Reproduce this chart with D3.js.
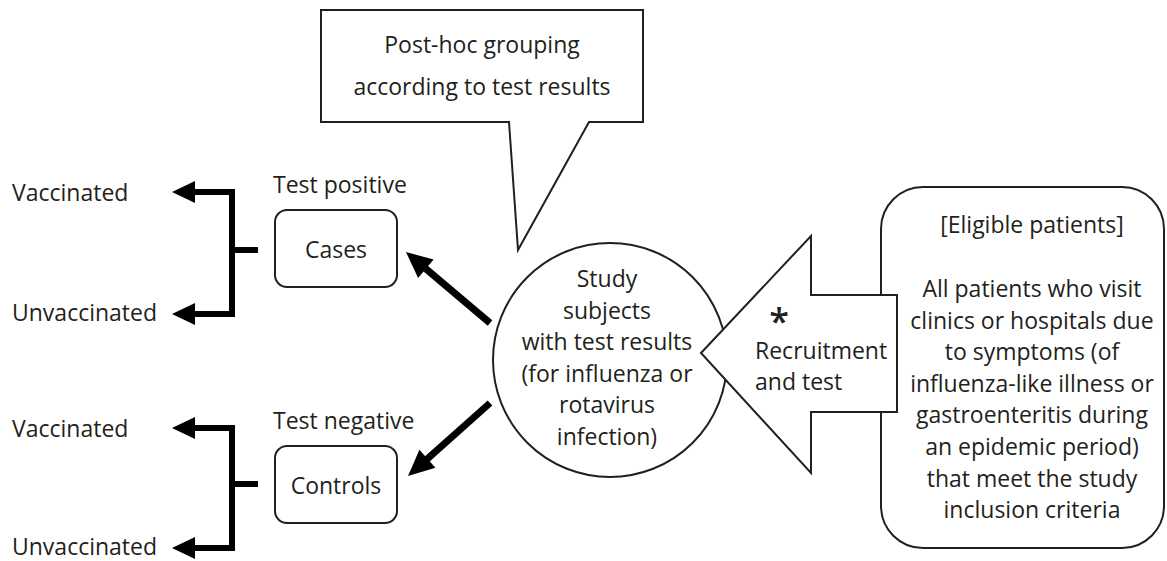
<!DOCTYPE html>
<html>
<head>
<meta charset="utf-8">
<script src="https://cdn.jsdelivr.net/npm/d3@7"></script>
<style>
  body { margin: 0; background: #fff; }
  svg text { font-family: "Open Sans", "Noto Sans", sans-serif; fill: #231f20; }
</style>
</head>
<body>
<div id="diagram"></div>
<script>
// Diagram texts
var calloutLines = ["Post-hoc grouping", "according to test results"];
var groupTitles = ["Test positive", "Test negative"];
var groupBoxes = ["Cases", "Controls"];
var outcomeLabels = ["Vaccinated", "Unvaccinated"];
var circleLines = ["Study", "subjects", "with test results", "(for influenza or", "rotavirus", "infection)"];
var recruitLines = ["Recruitment", "and test"];
var eligibleLines = ["[Eligible patients]", "", "All patients who visit", "clinics or hospitals due",
  "to symptoms (of", "influenza-like illness or", "gastroenteritis during",
  "an epidemic period)", "that meet the study", "inclusion criteria"];

var svgWidth = 1167;
var svgHeight = 561;

var svg = d3.select("#diagram")
  .append("svg")
  .attr("width", svgWidth)
  .attr("height", svgHeight);

var line = d3.line();
var fontSize = 23;

// Callout box with tail
svg.append("path")
  .attr("d", line([[321, 10], [643, 10], [643, 122], [589, 122], [518, 250], [509, 122], [321, 122]]) + "Z")
  .attr("fill", "#fff")
  .attr("stroke", "#231f20")
  .attr("stroke-width", 2);

svg.selectAll(".callout")
  .data(calloutLines)
  .enter()
  .append("text")
  .attr("x", 482)
  .attr("y", (d, i) => 53 + i * 42)
  .attr("text-anchor", "middle")
  .attr("font-size", fontSize)
  .text(d => d);

// Left groups: cases / controls with vaccinated split
var groupY = [0, 236];
groupY.forEach(function(dy, g) {
  var grp = svg.append("g").attr("transform", `translate(0, ${dy})`);

  grp.append("text")
    .attr("x", 273).attr("y", 193)
    .attr("font-size", fontSize)
    .text(groupTitles[g]);

  grp.append("rect")
    .attr("x", 275).attr("y", 210)
    .attr("width", 122).attr("height", 77)
    .attr("rx", 12)
    .attr("fill", "#fff")
    .attr("stroke", "#231f20")
    .attr("stroke-width", 2);

  grp.append("text")
    .attr("x", 336).attr("y", 258)
    .attr("text-anchor", "middle")
    .attr("font-size", fontSize)
    .text(groupBoxes[g]);

  var yTop = 192, yBot = 314 - g * 2, yMid = 250 - (g ? 2 : 0);
  // bracket
  grp.append("path")
    .attr("d", line([[192, yTop], [232, yTop], [232, yBot], [192, yBot]]))
    .attr("fill", "none")
    .attr("stroke", "#000")
    .attr("stroke-width", 6);
  grp.append("path")
    .attr("d", line([[232, yMid], [258, yMid]]))
    .attr("stroke", "#000")
    .attr("stroke-width", 6);
  // arrow heads
  [yTop, yBot].forEach(function(y) {
    grp.append("path")
      .attr("d", line([[172, y], [195, y - 11], [195, y + 11]]) + "Z")
      .attr("fill", "#000");
  });

  outcomeLabels.forEach(function(lbl, i) {
    grp.append("text")
      .attr("x", 12)
      .attr("y", (i === 0 ? yTop + 9 : yBot + 7))
      .attr("font-size", fontSize)
      .text(lbl);
  });
});

// Thick arrows from circle to groups
function thickArrow(from, to) {
  var dx = to[0] - from[0], dy = to[1] - from[1];
  var len = Math.sqrt(dx * dx + dy * dy);
  var ux = dx / len, uy = dy / len;
  var headLen = 26, headHalf = 12;
  var base = [to[0] - ux * headLen, to[1] - uy * headLen];
  svg.append("path")
    .attr("d", line([from, [base[0] + ux * 2, base[1] + uy * 2]]))
    .attr("stroke", "#000")
    .attr("stroke-width", 7);
  svg.append("path")
    .attr("d", line([to, [base[0] - uy * headHalf, base[1] + ux * headHalf],
      [base[0] + uy * headHalf, base[1] - ux * headHalf]]) + "Z")
    .attr("fill", "#000");
}
thickArrow([490, 323], [406, 252]);
thickArrow([490, 403], [408, 476]);

// Central circle
svg.append("circle")
  .attr("cx", 610).attr("cy", 360).attr("r", 117)
  .attr("fill", "#fff")
  .attr("stroke", "#231f20")
  .attr("stroke-width", 2);

svg.selectAll(".circleText")
  .data(circleLines)
  .enter()
  .append("text")
  .attr("x", 607)
  .attr("y", (d, i) => 287 + i * 31.6)
  .attr("text-anchor", "middle")
  .attr("font-size", fontSize)
  .text(d => d);

// Eligible patients box
svg.append("rect")
  .attr("x", 881).attr("y", 187)
  .attr("width", 283).attr("height", 361)
  .attr("rx", 42)
  .attr("fill", "#fff")
  .attr("stroke", "#231f20")
  .attr("stroke-width", 2);

svg.selectAll(".eligible")
  .data(eligibleLines)
  .enter()
  .append("text")
  .attr("x", 1032)
  .attr("y", (d, i) => i === 0 ? 233 : 297 + (i - 2) * 31.6)
  .attr("text-anchor", "middle")
  .attr("font-size", fontSize)
  .text(d => d);

// Block arrow: recruitment and test
svg.append("path")
  .attr("d", line([[701, 353], [811, 236], [811, 295], [897, 295], [897, 412], [811, 412], [811, 473]]) + "Z")
  .attr("fill", "#fff")
  .attr("stroke", "#231f20")
  .attr("stroke-width", 2);

svg.append("text")
  .attr("x", 779).attr("y", 334)
  .attr("text-anchor", "middle")
  .attr("font-size", 36)
  .attr("font-weight", 600)
  .text("*");

svg.selectAll(".recruit")
  .data(recruitLines)
  .enter()
  .append("text")
  .attr("x", 755)
  .attr("y", (d, i) => 359 + i * 31)
  .attr("font-size", fontSize)
  .text(d => d);
</script>
</body>
</html>
